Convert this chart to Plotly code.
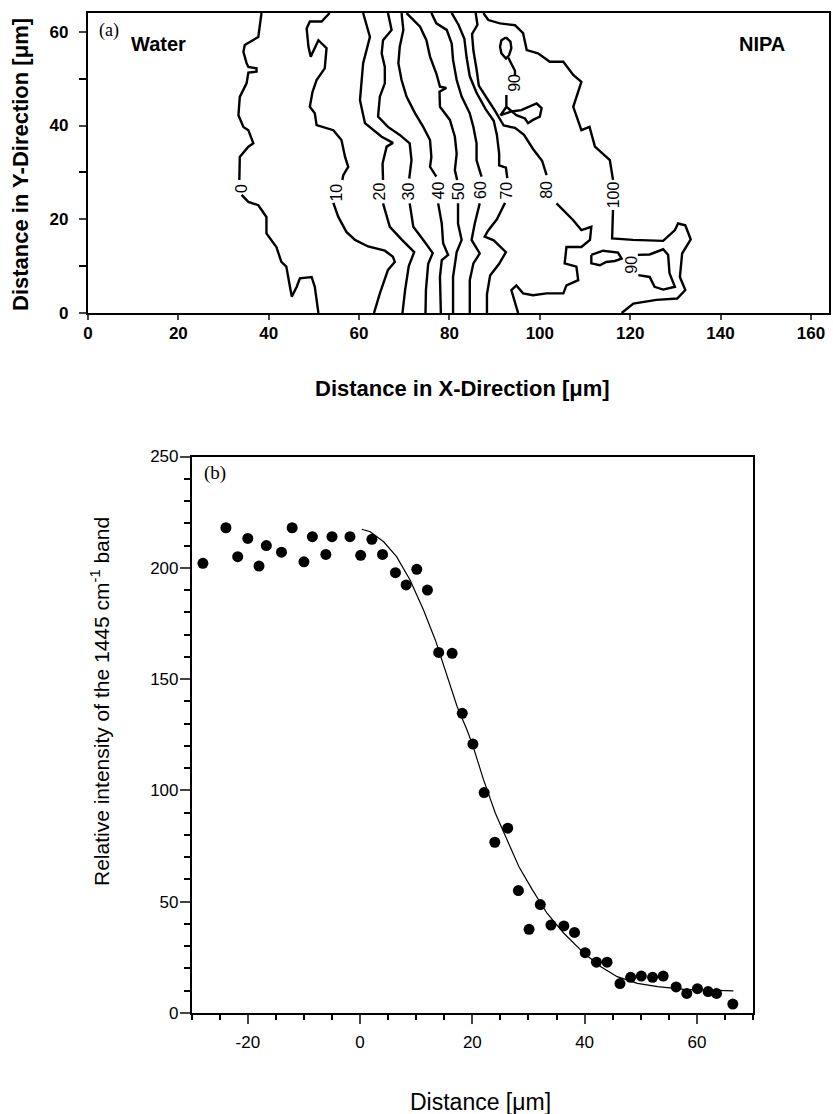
import plotly.graph_objects as go

# ---------------- (a) contour map: traced contour lines, x / y in micrometre ----------------
# None splits a line where its label sits
c0_x = [38.4, 37.7, 34.7, 34.4, 35.1, 35.5, 37.3, 37.3, 35.5, 35.1, 33.6, 33.3, 34.4, 35.5, 36.6, 35.5, 33.6, 33.5, None,
        34.0, 35.5, 37.7, 39.5, 39.5, 41.7, 42.8, 43.9, 44.7, 45.1, 46.2, 46.9, 49.5, 50.2, 51.0]
c0_y = [64, 58.9, 57.2, 55.7, 53.3, 52.5, 52.2, 51.5, 51.3, 49.0, 46.1, 42.2, 39.7, 39.0, 36.2, 35.5, 33.3, 28.4, None,
        25.2, 23.7, 23.0, 20.5, 17.0, 14.1, 10.9, 9.9, 5.6, 3.5, 5.6, 7.4, 7.7, 5.6, 0]

c10_x = [53.5, 51.7, 49.1, 48.4, 48.8, 49.3, 51.0, 52.8, 52.4, 50.6, 49.7, 49.1, 50.2, 50.6, 54.3, 56.1, 56.9, 57.6, 56.5, 56.3, None,
         54.3, 55.4, 57.2, 59.1, 62.0, 65.7, 67.5, 67.9, 66.4, 64.6, 63.3]
c10_y = [64, 62.2, 62.2, 60.7, 56.8, 54.7, 58.2, 56.5, 52.2, 49.7, 47.2, 44.0, 42.6, 40.1, 39.0, 36.9, 33.3, 31.2, 29.4, 28.4, None,
         23.5, 20.5, 17.3, 15.6, 14.2, 13.3, 12.0, 10.9, 9.2, 4.2, 0]

c20_x = [60.9, 62.4, 60.9, 60.2, 61.3, 65.0, 67.5, 66.1, 65.2, 65.3, None, 65.3, 66.8, 69.5, 72.2, 71.0, 70.2, 69.6]
c20_y = [64, 58.9, 53.3, 45.4, 40.5, 37.6, 36.3, 35.5, 31.9, 28.4, None, 23.4, 18.4, 15.6, 13.0, 10.0, 5.0, 0]

c30_x = [66.4, 67.2, 65.3, 65.0, 65.7, 65.7, 64.6, 64.2, 66.4, 69.0, 71.2, 71.6, 71.1, None,
         71.2, 72.0, 74.5, 76.3, 75.3, 74.8, 74.7]
c30_y = [64, 60.4, 58.2, 55.4, 52.5, 49.0, 46.2, 41.9, 39.7, 38.0, 36.2, 32.6, 28.7, None,
         23.4, 18.4, 15.2, 12.8, 10.5, 5.0, 0]

c40_x = [69.4, 69.8, 69.0, 68.7, 69.4, 70.5, 72.4, 74.2, 75.7, 76.0, 75.7, 77.1, None,
         77.5, 78.3, 78.6, 79.7, 78.3, 77.9, 78.1]
c40_y = [64, 60.4, 56.8, 53.3, 49.7, 46.2, 42.6, 39.7, 36.9, 33.3, 31.2, 29.1, None,
         23.4, 19.1, 14.9, 12.4, 11.3, 7.7, 0]

c50_x = [70.5, 73.5, 74.9, 75.7, 77.1, 77.9, 79.3, 77.8, 77.9, 80.1, 81.2, 81.6, 81.2, 81.7, None,
         81.9, 81.9, 82.7, 81.6, 80.8, 80.8]
c50_y = [64, 61.1, 58.2, 54.7, 51.1, 48.3, 48.0, 47.2, 44.0, 41.2, 37.6, 34.0, 30.5, 28.4, None,
         23.4, 19.1, 15.6, 13.0, 7.7, 0]

c60_x = [76.0, 77.1, 79.4, 80.5, 80.8, 81.6, 82.7, 84.5, 85.3, 86.0, 86.0, 87.1, None,
         86.7, 85.6, 84.9, 86.7, 85.3, 84.5, 84.5]
c60_y = [64, 61.8, 60.4, 57.5, 54.0, 49.7, 46.2, 42.6, 39.7, 36.2, 32.6, 29.1, None,
         23.4, 19.1, 15.6, 12.7, 10.6, 7.0, 0]

c70_x = [80.5, 82.0, 83.3, 83.8, 84.5, 86.0, 88.0, 89.8, 90.5, 91.0, 91.0, 92.5, 92.8, None,
         92.3, 90.5, 88.5, 87.8, 89.8, 92.5, 91.0, 89.0, 88.3, 88.3]
c70_y = [64, 61.5, 58.5, 54.5, 50.5, 47.0, 43.5, 41.0, 38.0, 34.0, 31.5, 31.0, 28.8, None,
         23.5, 20.0, 17.5, 16.3, 15.5, 13.0, 10.5, 8.0, 4.0, 0]

c80_x = [85.8, 86.2, 85.0, 85.3, 86.0, 86.5, 88.5, 90.0, 92.0, 94.5, 96.5, 98.5, 100.5, 101.5, None,
         103.7, 107.4, 109.2, 111.4, 111.1, 109.2, 105.9, 105.5, 108.1, 108.5, 105.9, 105.2, 101.5, 98.5, 96.3, 94.8, 93.7, 95.2]
c80_y = [64, 61.5, 59.5, 56.0, 52.0, 48.5, 45.5, 43.3, 40.0, 39.5, 38.0, 35.0, 32.5, 29.4, None,
         23.4, 19.8, 17.7, 18.4, 15.6, 14.1, 14.1, 10.6, 9.9, 7.0, 5.9, 4.2, 4.2, 3.8, 4.2, 5.9, 4.9, 0]

c90a_x = [92.5, 93.5, 93.7, 93.2, 92.5, 91.5, 91.2, 91.5, 92.5, None,
          93.0, 94.5, 94.5, None,
          92.6, 92.6, 91.3, 93.7, 95.9, 97.8, 99.3, 100.4, 100.0, 98.5, 97.4, 96.7, 94.8, 92.6]
c90a_y = [58.8, 57.9, 56.5, 55.0, 54.3, 55.4, 56.8, 58.2, 58.8, None,
          54.5, 51.7, 50.8, None,
          46.5, 44.0, 42.2, 43.0, 43.3, 44.0, 44.7, 43.7, 41.9, 41.2, 40.5, 41.5, 42.2, 44.0]

c90b_x = [111.4, 114.0, 117.3, 118.1, 116.6, 114.7, 113.3, 111.4, 111.4, None,
          121.7, 124.3, 127.3, 128.4, 128.7, 129.9, 127.3, 125.4, 124.3, 122.5, 121.8]
c90b_y = [12.4, 13.3, 12.9, 11.6, 11.1, 10.9, 10.2, 10.6, 12.4, None,
          12.4, 12.5, 13.6, 12.4, 8.5, 5.6, 5.0, 5.6, 7.7, 8.1, 8.1]

c100_x = [87.5, 88.6, 91.2, 94.5, 96.3, 97.1, 99.6, 102.2, 105.2, 107.4, 109.2, 107.4, 109.2, 111.0, 112.2, 115.5, 116.2, None,
          116.2, 116.0, 120.6, 127.3, 129.9, 130.6, 132.2, 133.4, 131.5, 131.0, 132.2, 130.4, 125.8, 120.7, 118.1]
c100_y = [64, 62.5, 61.8, 61.4, 59.7, 56.1, 55.4, 53.6, 53.6, 50.8, 49.3, 44.0, 39.0, 39.7, 35.5, 32.6, 28.4, None,
          22.0, 15.9, 15.6, 15.4, 17.7, 19.1, 18.7, 15.7, 12.7, 7.7, 4.9, 3.1, 2.8, 2.0, 0]

contours = [(c0_x, c0_y), (c10_x, c10_y), (c20_x, c20_y), (c30_x, c30_y), (c40_x, c40_y), (c50_x, c50_y),
            (c60_x, c60_y), (c70_x, c70_y), (c80_x, c80_y), (c90a_x, c90a_y), (c90b_x, c90b_y), (c100_x, c100_y)]

# contour labels
lab_text = ["0", "10", "20", "30", "40", "50", "60", "70", "80", "90", "90", "100"]
lab_x = [34.0, 55.0, 64.6, 70.9, 77.5, 81.9, 86.7, 92.6, 101.6, 94.5, 120.3, 116.5]
lab_y = [26.6, 25.8, 25.9, 26.0, 26.2, 26.0, 26.2, 26.2, 26.3, 49.1, 10.2, 25.2]

# ---------------- (b) intensity profile ----------------
dist = [-28.0, -23.9, -21.8, -20.0, -18.0, -16.7, -14.0, -12.1, -10.0, -8.5, -6.1, -5.0, -1.8, 0.1, 2.1, 4.0,
        6.3, 8.2, 10.1, 12.0, 14.0, 16.4, 18.2, 20.1, 22.1, 24.0, 26.3, 28.2, 30.1, 32.1, 34.0, 36.3, 38.2,
        40.1, 42.1, 44.0, 46.3, 48.2, 50.1, 52.1, 54.0, 56.3, 58.2, 60.1, 62.0, 63.5, 66.4]
intensity = [202.0, 218.0, 205.0, 213.2, 200.8, 210.0, 207.0, 218.0, 202.7, 214.0, 206.0, 214.0, 214.0, 205.6, 212.8, 206.0,
             197.8, 192.3, 199.3, 190.0, 162.0, 161.6, 134.6, 120.8, 99.0, 76.7, 83.0, 55.0, 37.6, 48.7, 39.5, 39.1, 36.2,
             27.1, 22.8, 22.8, 13.2, 16.0, 16.6, 16.0, 16.6, 11.7, 8.8, 10.9, 9.6, 8.8, 4.0]

fit_x = [0.3, 1.8, 4.2, 6.5, 8.9, 11.3, 13.4, 15.5, 17.3, 19.0, 20.1, 22.0, 24.1, 26.2, 28.3, 30.7, 33.3, 36.3, 39.9,
         42.9, 45.8, 49.4, 53.0, 57.7, 66.5]
fit_y = [217.3, 216.2, 211.7, 205.0, 194.5, 181.0, 167.6, 151.0, 137.6, 127.5, 120.0, 104.7, 89.7, 77.7, 65.7, 55.3, 44.8,
         35.8, 26.8, 20.8, 16.3, 13.3, 11.8, 10.6, 9.9]

FONT = "Liberation Sans"

fig = go.Figure()

for cx, cy in contours:
    fig.add_trace(go.Scatter(x=cx, y=cy, mode="lines", xaxis="x", yaxis="y",
                             line=dict(color="black", width=2.4), showlegend=False, hoverinfo="skip"))

fig.add_trace(go.Scatter(x=fit_x, y=fit_y, mode="lines", xaxis="x2", yaxis="y2",
                         line=dict(color="black", width=1.2), showlegend=False))
fig.add_trace(go.Scatter(x=dist, y=intensity, mode="markers", xaxis="x2", yaxis="y2",
                         marker=dict(color="black", size=11), showlegend=False))

ann = []
for t, lx, ly in zip(lab_text, lab_x, lab_y):
    ann.append(dict(x=lx, y=ly, xref="x", yref="y", text=t, showarrow=False, textangle=-90,
                    xanchor="center", yanchor="middle",
                    font=dict(family=FONT, size=16, color="black")))


def note(x, y, text, size, xref="paper", yref="paper", angle=0, family=FONT):
    return dict(x=x, y=y, xref=xref, yref=yref, text=text, showarrow=False, textangle=angle,
                xanchor="center", yanchor="middle", font=dict(family=family, size=size, color="black"))


ann += [
    note(4.6, 60.3, "(a)", 18, "x", "y", family="Liberation Serif"),
    note(15.5, 57.3, "<b>Water</b>", 20, "x", "y"),
    note(149.1, 57.3, "<b>NIPA</b>", 20, "x", "y"),
    note(0.0252, 0.8528, "<b>Distance in Y-Direction [μm]</b>", 22, angle=-90),
    note(0.5558, 1 - 388 / 1114, "<b>Distance in X-Direction [μm]</b>", 22),
    note(-25.9, 242.5, "(b)", 19, "x2", "y2", family="Liberation Serif"),
    note(0.120, 0.3707, "Relative intensity of the 1445 cm<sup>-1</sup> band", 21, angle=-90),
    note(480 / 833, 1 - 1102 / 1114, "Distance [μm]", 23),
]

fig.update_layout(
    width=833, height=1114, autosize=False,
    margin=dict(l=0, r=0, t=0, b=0),
    paper_bgcolor="white", plot_bgcolor="white",
    annotations=ann,
    xaxis=dict(domain=[0.1056, 0.9952], range=[0, 164], anchor="y", automargin=False,
               tickvals=list(range(0, 161, 20)), ticks="outside", ticklen=5, tickwidth=2,
               showline=True, linewidth=2.2, linecolor="black", mirror=True,
               showgrid=False, zeroline=False, ticklabelstandoff=-2,
               tickfont=dict(family=FONT, size=17, color="black", weight="bold")),
    yaxis=dict(domain=[0.7190, 0.9883], range=[0, 64], anchor="x", automargin=False,
               tickvals=[0, 20, 40, 60], ticks="outside", ticklen=7, tickwidth=2,
               minor=dict(tickvals=[10, 30, 50], ticks="outside", ticklen=7, tickwidth=2, tickcolor="black"),
               showline=True, linewidth=2.2, linecolor="black", mirror=True,
               showgrid=False, zeroline=False, ticklabelstandoff=7,
               tickfont=dict(family=FONT, size=17, color="black", weight="bold")),
    xaxis2=dict(domain=[0.2301, 0.9040], range=[-30, 70], anchor="y2", automargin=False,
                tickvals=[-20, 0, 20, 40, 60], ticktext=["-20", "0", "20", "40", "60"],
                ticks="outside", ticklen=9, tickwidth=1.5,
                minor=dict(tickvals=[-30, -25, -15, -10, -5, 5, 10, 15, 25, 30, 35, 45, 50, 55, 65, 70],
                           ticks="outside", ticklen=5, tickwidth=1.5, tickcolor="black"),
                showline=True, linewidth=1.5, linecolor="black", mirror=True,
                showgrid=False, zeroline=False, ticklabelstandoff=4,
                tickfont=dict(family=FONT, size=17, color="black")),
    yaxis2=dict(domain=[0.0907, 0.5902], range=[0, 250], anchor="x2", automargin=False,
                tickvals=[0, 50, 100, 150, 200, 250], ticks="outside", ticklen=10, tickwidth=1.5,
                minor=dict(tickvals=[v for v in range(10, 250, 10) if v % 50], ticks="outside",
                           ticklen=6, tickwidth=1.5, tickcolor="black"),
                showline=True, linewidth=1.5, linecolor="black", mirror=True,
                showgrid=False, zeroline=False, ticklabelstandoff=-2,
                tickfont=dict(family=FONT, size=17, color="black")),
)

# the page body has a default 8px margin; drop it so the figure sits at the window corner
fig.write_html("out.html", config={"displayModeBar": False},
               post_script="document.body.style.margin='0px';")
